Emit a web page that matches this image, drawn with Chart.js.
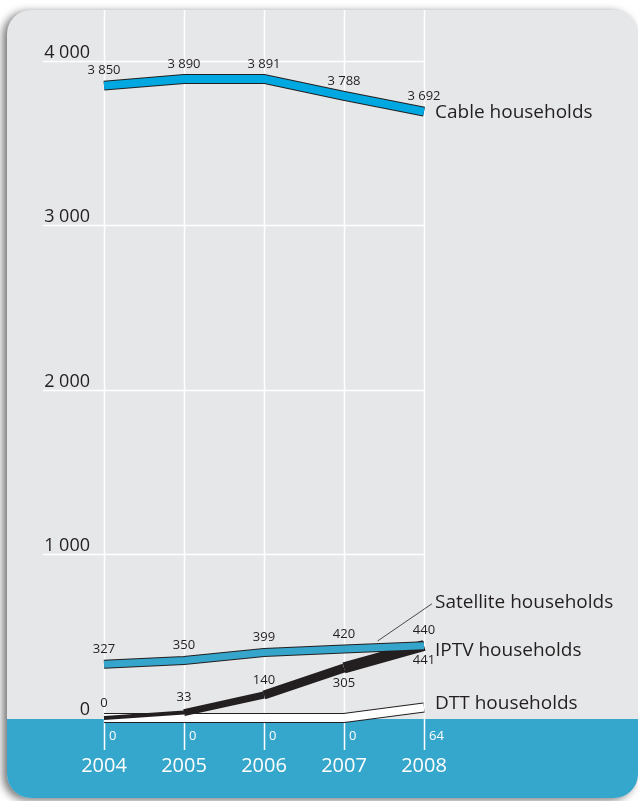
<!DOCTYPE html>
<html>
<head>
<meta charset="utf-8">
<script src="https://cdn.jsdelivr.net/npm/chart.js@4"></script>
<style>
  body { margin: 0; background: #ffffff; }
  canvas { display: block; }
</style>
</head>
<body>
<canvas id="myChart" width="638" height="801"></canvas>
<script>
// Data
const years = ['2004', '2005', '2006', '2007', '2008'];
const cable = [3850, 3890, 3891, 3788, 3692];
const satellite = [327, 350, 399, 420, 440];
const iptv = [0, 33, 140, 305, 441];
const dtt = [0, 0, 0, 0, 64];
const yTicks = [1000, 2000, 3000, 4000];
const zeroTick = 0;

const FONT = "'Open Sans', 'Noto Sans', sans-serif";
const DARK = '#231f20';

function fmt(v) {
  return String(v).replace(/\B(?=(\d{3})+(?!\d))/g, ' ');
}

// label side per point: -1 above, 1 below
const sides = {
  cable: [-1, -1, -1, -1, -1],
  satellite: [-1, -1, -1, -1, -1],
  iptv: [-1, -1, -1, 1, 1],
};

// the IPTV ribbon gets thicker from left to right
const iptvWidths = [4, 7, 9, 11];

function pair(name, values, color, width, order) {
  return [
    {
      label: name + ' outline',
      data: values,
      borderColor: DARK,
      borderWidth: width + 2,
      borderCapStyle: 'butt',
      borderJoinStyle: 'miter',
      pointRadius: 0,
      tension: 0,
      clip: false,
      order: order + 1,
    },
    {
      label: name,
      data: values,
      borderColor: color,
      borderWidth: width,
      borderCapStyle: 'butt',
      borderJoinStyle: 'miter',
      pointRadius: 0,
      tension: 0,
      clip: false,
      order: order,
    },
  ];
}

const datasets = [].concat(
  pair('Cable households', cable, '#00a8e1', 8, 1),
  pair('Satellite households', satellite, '#36a5cb', 7, 3),
  [{
    label: 'IPTV households',
    data: iptv,
    borderColor: DARK,
    borderWidth: 10,
    segment: {
      borderWidth: function (ctx) { return iptvWidths[ctx.p0DataIndex]; },
    },
    borderCapStyle: 'butt',
    borderJoinStyle: 'round',
    pointRadius: 0,
    tension: 0,
    clip: false,
    order: 5,
  }],
  pair('DTT households', dtt, '#ffffff', 8, 7)
);

// background panel, grid and blue band
const panelPlugin = {
  id: 'panel',
  beforeDatasetsDraw(chart) {
    const ctx = chart.ctx;
    const x = chart.scales.x;
    const y = chart.scales.y;
    const zeroY = y.getPixelForValue(zeroTick);
    ctx.save();
    ctx.fillStyle = '#ffffff';
    ctx.fillRect(0, 0, chart.width, chart.height);

    ctx.beginPath();
    ctx.roundRect(7, 10, 631, 788, 24);
    ctx.shadowColor = 'rgba(0,0,0,0.55)';
    ctx.shadowBlur = 8;
    ctx.shadowOffsetX = -4;
    ctx.shadowOffsetY = 2;
    ctx.fillStyle = '#e6e7e9';
    ctx.fill();
    ctx.shadowColor = 'transparent';
    ctx.clip();
    ctx.fillStyle = '#35a6cc';
    ctx.fillRect(0, zeroY + 1, chart.width, chart.height - zeroY);
    ctx.restore();

    ctx.save();
    ctx.strokeStyle = '#ffffff';
    ctx.lineWidth = 1.5;
    yTicks.forEach(function (t) {
      const py = Math.round(y.getPixelForValue(t)) + 0.5;
      ctx.beginPath();
      ctx.moveTo(43, py);
      ctx.lineTo(chart.chartArea.right, py);
      ctx.stroke();
    });
    years.forEach(function (yr, i) {
      const px = Math.round(x.getPixelForValue(i)) + 0.5;
      ctx.beginPath();
      ctx.moveTo(px, 10);
      ctx.lineTo(px, zeroY + 32);
      ctx.stroke();
    });

    // y tick labels
    ctx.fillStyle = DARK;
    ctx.font = '18px ' + FONT;
    ctx.textAlign = 'right';
    ctx.textBaseline = 'alphabetic';
    yTicks.concat([zeroTick]).forEach(function (t) {
      ctx.fillText(fmt(t), 90, y.getPixelForValue(t) - 3);
    });

    // year labels
    ctx.fillStyle = '#ffffff';
    ctx.font = '20px ' + FONT;
    ctx.textAlign = 'center';
    ctx.textBaseline = 'middle';
    years.forEach(function (yr, i) {
      ctx.fillText(yr, x.getPixelForValue(i), zeroY + 48);
    });
    ctx.restore();
  },
};

// value labels and series names
const labelPlugin = {
  id: 'labels',
  afterDatasetsDraw(chart) {
    const ctx = chart.ctx;
    const x = chart.scales.x;
    const y = chart.scales.y;
    const zeroY = y.getPixelForValue(zeroTick);
    ctx.save();
    ctx.font = '13px ' + FONT;
    ctx.fillStyle = DARK;
    ctx.textAlign = 'center';
    ctx.textBaseline = 'middle';

    function put(values, side) {
      values.forEach(function (v, i) {
        const px = x.getPixelForValue(i);
        const py = y.getPixelForValue(v);
        ctx.fillText(fmt(v), px, py + side[i] * 15);
      });
    }
    put(cable, sides.cable);
    put(satellite, sides.satellite);
    put(iptv, sides.iptv);

    // DTT values inside the blue band
    ctx.fillStyle = '#ffffff';
    ctx.textAlign = 'left';
    dtt.forEach(function (v, i) {
      ctx.fillText(fmt(v), x.getPixelForValue(i) + 5, zeroY + 18);
    });

    // series names
    const lx = chart.chartArea.right + 11;
    const last = years.length - 1;
    ctx.fillStyle = DARK;
    ctx.font = '19px ' + FONT;
    ctx.fillText('Cable households', lx, y.getPixelForValue(cable[last]) + 1);
    ctx.fillText('Satellite households', lx, y.getPixelForValue(satellite[last]) - 43);
    ctx.fillText('IPTV households', lx, y.getPixelForValue(iptv[last]) + 5);
    ctx.fillText('DTT households', lx, y.getPixelForValue(dtt[last]) - 4);

    // leader line to satellite label
    const sx = x.getPixelForValue(3.42);
    const sy = y.getPixelForValue(satellite[3]) - 8;
    ctx.strokeStyle = DARK;
    ctx.lineWidth = 0.8;
    ctx.beginPath();
    ctx.moveTo(sx, sy);
    ctx.lineTo(lx - 3, y.getPixelForValue(satellite[last]) - 42);
    ctx.stroke();
    ctx.restore();
  },
};

const config = {
  type: 'line',
  data: {
    labels: years,
    datasets: datasets,
  },
  options: {
    responsive: false,
    animation: false,
    layout: {
      padding: { left: 104, right: 214, top: 61, bottom: 83 },
    },
    plugins: {
      legend: { display: false },
      tooltip: { enabled: false },
    },
    scales: {
      x: { display: false, offset: false },
      y: { display: false, min: 0, max: 4000 },
    },
  },
  plugins: [panelPlugin, labelPlugin],
};

const myChart = new Chart(document.getElementById('myChart'), config);
</script>
</body>
</html>
